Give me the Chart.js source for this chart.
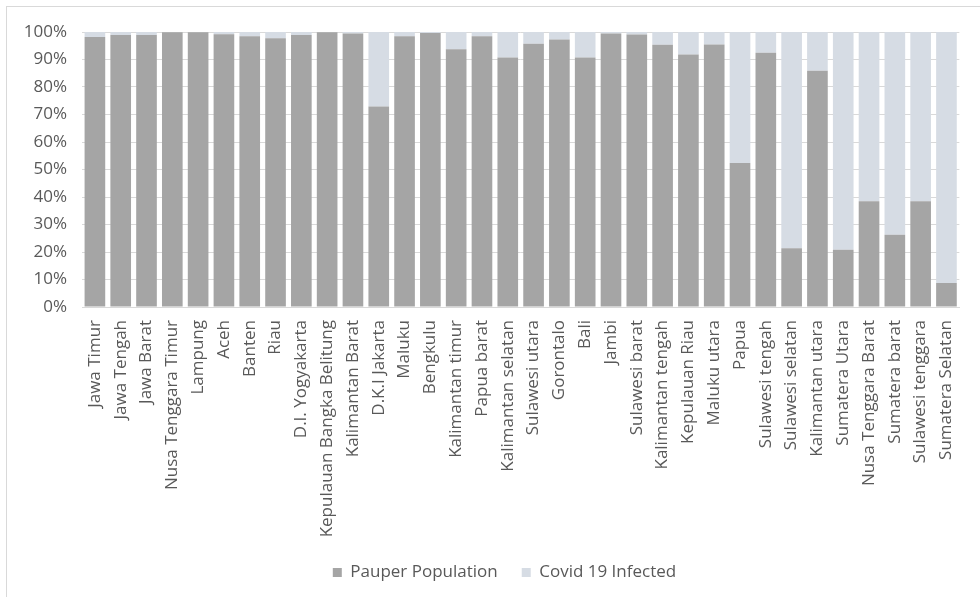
<!DOCTYPE html>
<html>
<head>
<meta charset="utf-8">
<script src="https://cdn.jsdelivr.net/npm/chart.js@4.4.0/dist/chart.umd.min.js"></script>
<style>
  html, body { margin: 0; padding: 0; background: #fff; overflow: hidden; }
  #wrap { position: relative; width: 980px; height: 597px; }
  #frame { position: absolute; left: 6px; top: 6px; width: 1000px; height: 620px;
           border-left: 1px solid #d9d9d9; border-top: 1px solid #d9d9d9; }
  canvas { position: absolute; left: 0; top: 0; }
</style>
</head>
<body>
<div id="wrap">
  <div id="frame"></div>
  <canvas id="provinsiChart" width="980" height="597"></canvas>
</div>
<script>
const provinces = [
  'Jawa Timur', 'Jawa Tengah', 'Jawa Barat', 'Nusa Tenggara Timur', 'Lampung',
  'Aceh', 'Banten', 'Riau', 'D.I. Yogyakarta', 'Kepulauan Bangka Belitung',
  'Kalimantan Barat', 'D.K.I Jakarta', 'Maluku', 'Bengkulu', 'Kalimantan timur',
  'Papua barat', 'Kalimantan selatan', 'Sulawesi utara', 'Gorontalo', 'Bali',
  'Jambi', 'Sulawesi barat', 'Kalimantan tengah', 'Kepulauan Riau', 'Maluku utara',
  'Papua', 'Sulawesi tengah', 'Sulawesi selatan', 'Kalimantan utara', 'Sumatera Utara',
  'Nusa Tenggara Barat', 'Sumatera barat', 'Sulawesi tenggara', 'Sumatera Selatan'
];

// share of each province total (%)
const pauperShare = [
  98.2, 98.9, 98.9, 99.9, 99.9,
  99.2, 98.5, 97.7, 98.9, 99.9,
  99.5, 72.9, 98.5, 99.6, 93.7,
  98.5, 90.7, 95.7, 97.3, 90.7,
  99.5, 99.1, 95.4, 91.8, 95.5,
  52.4, 92.5, 21.4, 85.9, 20.8,
  38.5, 26.3, 38.5, 8.7
];
const covidShare = [
  1.8, 1.1, 1.1, 0.1, 0.1,
  0.8, 1.5, 2.3, 1.1, 0.1,
  0.5, 27.1, 1.5, 0.4, 6.3,
  1.5, 9.3, 4.3, 2.7, 9.3,
  0.5, 0.9, 4.6, 8.2, 4.5,
  47.6, 7.5, 78.6, 14.1, 79.2,
  61.5, 73.7, 61.5, 91.3
];

const yTicks = [0, 10, 20, 30, 40, 50, 60, 70, 80, 90, 100];

const textColor = '#595959';
const gridColor = '#d9d9d9';
const font = { family: "'Open Sans', sans-serif", size: 17 };

// nudge the legend so it sits centred under the plot area rather than the canvas
const legendShift = {
  id: 'legendShift',
  afterLayout(chart) {
    if (chart.legend) chart.legend.left += 31;
  }
};

const ctx = document.getElementById('provinsiChart').getContext('2d');
const provinsiChart = new Chart(ctx, {
  type: 'bar',
  data: {
    labels: provinces,
    datasets: [
      {
        label: 'Pauper Population',
        data: pauperShare,
        backgroundColor: '#a5a5a5',
        categoryPercentage: 1,
        barPercentage: 0.8
      },
      {
        label: 'Covid 19 Infected',
        data: covidShare,
        backgroundColor: '#d6dce4',
        categoryPercentage: 1,
        barPercentage: 0.8
      }
    ]
  },
  plugins: [legendShift],
  options: {
    responsive: false,
    animation: false,
    layout: { padding: { left: 8, top: 32, right: 10, bottom: 6 } },
    plugins: {
      tooltip: { enabled: false },
      legend: {
        position: 'bottom',
        labels: {
          color: textColor,
          font: font,
          boxWidth: 9,
          boxHeight: 9,
          padding: 24
        }
      }
    },
    scales: {
      x: {
        stacked: true,
        grid: { display: false, drawTicks: false },
        border: { display: true, color: gridColor },
        ticks: {
          color: textColor,
          font: font,
          minRotation: 90,
          maxRotation: 90,
          autoSkip: false,
          padding: 13
        },
        afterFit: scale => { scale.height = 233; }
      },
      y: {
        stacked: true,
        min: 0,
        max: 100,
        afterBuildTicks: scale => { scale.ticks = yTicks.map(v => ({ value: v })); },
        grid: { color: gridColor, drawTicks: false },
        border: { display: false },
        ticks: {
          color: textColor,
          font: font,
          padding: 15,
          callback: v => v + '%'
        },
        afterFit: scale => { scale.width = 74; }
      }
    }
  }
});
</script>
</body>
</html>
